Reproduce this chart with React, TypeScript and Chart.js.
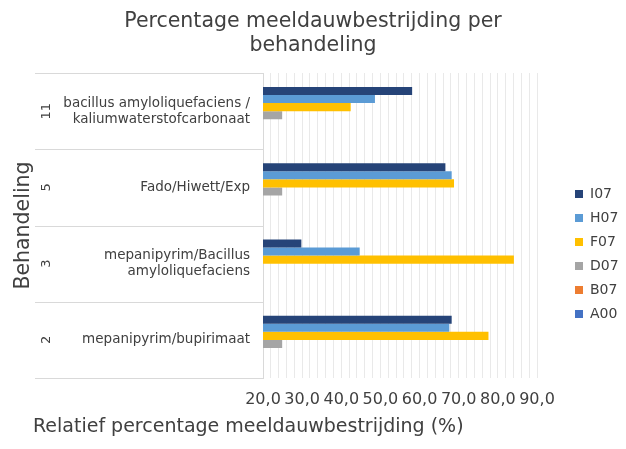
import React, { useEffect, useRef } from "react";
import { Chart, registerables } from "chart.js";

Chart.register(...registerables);

// ---- data ----
const groupNumbers = ["11", "5", "3", "2"];
const treatments: string[][] = [
  ["bacillus amyloliquefaciens /", "kaliumwaterstofcarbonaat"],
  ["Fado/Hiwett/Exp"],
  ["mepanipyrim/Bacillus", "amyloliquefaciens"],
  ["mepanipyrim/bupirimaat"],
];
const seriesNames = ["I07", "H07", "F07", "D07", "B07", "A00"];
const I07 = [58.1, 66.6, 29.8, 68.2];
const H07 = [48.6, 68.2, 44.7, 67.6];
const F07 = [42.4, 68.8, 84.1, 77.6];
const D07: (number | null)[] = [24.9, 24.9, null, 24.9];
const B07: (number | null)[] = [null, null, null, null];
const A00: (number | null)[] = [null, null, null, null];
const seriesValues = [I07, H07, F07, D07, B07, A00];
const seriesColors = ["#264478", "#5B9BD5", "#FFC000", "#A5A5A5", "#ED7D31", "#4472C4"];
const xMin = 20;
const xMax = 90;
const xStep = 2;
const xLabelStep = 10;

const FONT = "'DejaVu Sans'";
const TEXT = "#404040";

export default function App() {
  const ref = useRef<HTMLCanvasElement | null>(null);

  useEffect(() => {
    let chart: Chart | null = null;
    let cancelled = false;

    const decor = {
      id: "decor",
      beforeLayout(c: any) {
        const lg = c.legend;
        if (!lg || lg.__fixedFit) return;
        const orig = lg.fit;
        lg.fit = function () {
          orig.call(this);
          this.width = 89;
        };
        lg.__fixedFit = true;
      },
      afterLayout(c: any) {
        const lg = c.legend;
        if (!lg) return;
        const pad = 10;
        const dx = 575 - (lg.left + pad);
        const dy = 194 - (lg.top + pad + 7);
        lg.left += dx;
        lg.top += dy;
        lg.bottom += dy;
        lg.right = c.width;
        lg.width = lg.right - lg.left;
      },
      afterDraw(c: any) {
        const { ctx, chartArea } = c;
        const y = c.scales.y;
        const n = groupNumbers.length;
        ctx.save();
        ctx.strokeStyle = "#d9d9d9";
        ctx.lineWidth = 1;
        for (let i = 0; i <= n; i++) {
          let py: number;
          if (i === 0) py = chartArea.top;
          else if (i === n) py = chartArea.bottom;
          else py = (y.getPixelForTick(i - 1) + y.getPixelForTick(i)) / 2;
          py = Math.round(py) + 0.5;
          ctx.beginPath();
          ctx.moveTo(35, py);
          ctx.lineTo(chartArea.left, py);
          ctx.stroke();
        }
        ctx.fillStyle = TEXT;
        ctx.font = `13px ${FONT}`;
        ctx.textAlign = "center";
        ctx.textBaseline = "middle";
        for (let i = 0; i < n; i++) {
          const py = y.getPixelForTick(i);
          ctx.save();
          ctx.translate(47, py);
          ctx.rotate(-Math.PI / 2);
          ctx.fillText(groupNumbers[i], 0, 0);
          ctx.restore();
        }
        ctx.font = `19px ${FONT}`;
        ctx.textAlign = "left";
        ctx.fillText("Relatief percentage meeldauwbestrijding (%)", 33, 427);
        ctx.restore();
      },
    };

    const build = () => {
      if (cancelled || !ref.current) return;
      chart = new Chart(ref.current, {
        type: "bar",
        data: {
          labels: treatments,
          datasets: seriesNames.map((name, i) => ({
            label: name,
            data: seriesValues[i],
            backgroundColor: seriesColors[i],
            borderWidth: 0,
            categoryPercentage: 0.63,
            barPercentage: 1,
          })),
        },
        options: {
          indexAxis: "y",
          responsive: false,
          animation: false,
          layout: { padding: 0 },
          plugins: {
            title: {
              display: true,
              text: ["Percentage meeldauwbestrijding per", "behandeling"],
              color: TEXT,
              font: { family: FONT, size: 20.5, weight: "normal" },
              padding: { top: 9, bottom: 14.8 },
            },
            legend: {
              display: true,
              position: "right",
              align: "start",
              labels: {
                boxWidth: 8,
                boxHeight: 8,
                padding: 10,
                color: TEXT,
                font: { family: FONT, size: 14 },
              },
            },
            tooltip: { enabled: false },
          },
          scales: {
            x: {
              type: "linear",
              min: xMin,
              max: xMax,
              afterFit: (s: any) => {
                s.height = 71;
              },
              ticks: {
                stepSize: xStep,
                autoSkip: false,
                maxRotation: 0,
                padding: 12,
                color: TEXT,
                font: { family: FONT, size: 16 },
                callback: (v: any) =>
                  Number(v) % xLabelStep === 0 ? Number(v).toFixed(1).replace(".", ",") : "",
              },
              grid: { color: "#e9e9e9", drawTicks: false },
              border: { display: false },
            },
            y: {
              type: "category",
              afterFit: (s: any) => {
                s.width = 263;
              },
              ticks: {
                padding: 13,
                color: TEXT,
                font: { family: FONT, size: 13.5 },
              },
              grid: { display: false, drawTicks: false },
              border: { display: true, color: "#d9d9d9" },
              title: {
                display: true,
                text: "Behandeling",
                color: TEXT,
                font: { family: FONT, size: 20.5 },
                padding: { top: 11, bottom: 0 },
              },
            },
          },
        },
        plugins: [decor],
      });
    };

    const fonts = (document as any).fonts;
    if (fonts && fonts.load) {
      Promise.all([
        fonts.load(`14px ${FONT}`),
        fonts.load(`20px ${FONT}`),
      ])
        .catch(() => null)
        .then(build);
    } else {
      build();
    }

    return () => {
      cancelled = true;
      if (chart) chart.destroy();
    };
  }, []);

  return (
    <div style={{ position: "absolute", left: 0, top: 0, width: 626, height: 449, background: "#fff" }}>
      <canvas ref={ref} width={626} height={449} style={{ display: "block" }} />
    </div>
  );
}
